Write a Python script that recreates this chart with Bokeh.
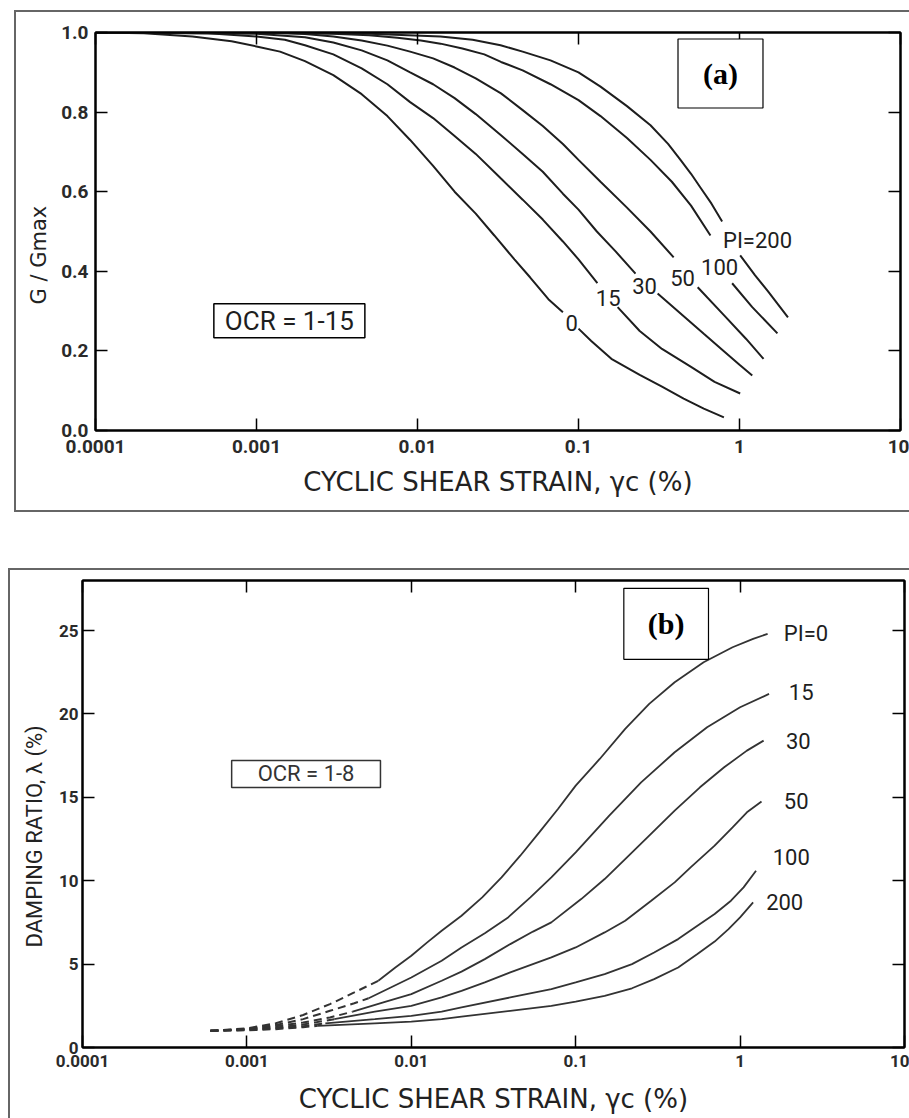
import numpy as np
from bokeh.plotting import figure
from bokeh.models import LogAxis, LinearAxis, FixedTicker, Label, Title
from bokeh.core.properties import value
from bokeh.embed import file_html
from bokeh.resources import INLINE

# ---------------- shared ticks ----------------
x_ticks = [0.0001, 0.001, 0.01, 0.1, 1.0, 10.0]
x_tick_labels = ["0.0001", "0.001", "0.01", "0.1", "1", "10"]

# ---------------- (a) G/Gmax vs cyclic shear strain ----------------
g_ticks = [0.0, 0.2, 0.4, 0.6, 0.8, 1.0]
g_tick_labels = ["0.0", "0.2", "0.4", "0.6", "0.8", "1.0"]

# None marks the gap where the PI label sits on the curve
gam_pi0 = [0.0001, 0.0002, 0.0004, 0.0007, 0.001, 0.0014, 0.002, 0.003, 0.0045, 0.0065, 0.009, 0.0125, 0.017, 0.023, 0.03, 0.04, 0.05, 0.065, 0.08,
           None, 0.1, 0.12, 0.16, 0.24, 0.33, 0.45, 0.6, 0.8]
G_pi0 = [1.0, 0.998, 0.99, 0.978, 0.965, 0.952, 0.928, 0.893, 0.845, 0.79, 0.73, 0.665, 0.60, 0.545, 0.49, 0.43, 0.385, 0.33, 0.297,
         None, 0.256, 0.225, 0.18, 0.14, 0.11, 0.08, 0.055, 0.033]

gam_pi15 = [0.0001, 0.0005, 0.001, 0.0015, 0.002, 0.003, 0.0045, 0.0065, 0.009, 0.0125, 0.017, 0.023, 0.033, 0.045, 0.06, 0.08, 0.1, 0.131,
            None, 0.175, 0.24, 0.33, 0.5, 0.7, 1.01]
G_pi15 = [1.0, 0.998, 0.99, 0.982, 0.968, 0.945, 0.91, 0.87, 0.825, 0.785, 0.74, 0.695, 0.633, 0.58, 0.53, 0.475, 0.43, 0.37,
          None, 0.31, 0.25, 0.205, 0.16, 0.122, 0.093]

gam_pi30 = [0.0001, 0.001, 0.002, 0.003, 0.0045, 0.0065, 0.009, 0.0125, 0.017, 0.023, 0.033, 0.045, 0.06, 0.08, 0.1, 0.13, 0.17, 0.226,
            None, 0.31, 0.42, 0.6, 0.8, 1.0, 1.2]
G_pi30 = [1.0, 0.997, 0.988, 0.975, 0.955, 0.93, 0.90, 0.87, 0.835, 0.795, 0.742, 0.695, 0.65, 0.595, 0.555, 0.50, 0.45, 0.394,
          None, 0.344, 0.298, 0.243, 0.199, 0.165, 0.138]

gam_pi50 = [0.0001, 0.001, 0.002, 0.003, 0.0045, 0.0065, 0.009, 0.0125, 0.017, 0.023, 0.033, 0.045, 0.06, 0.08, 0.1, 0.137, 0.2, 0.28, 0.39,
            None, 0.55, 0.8, 1.1, 1.41]
G_pi50 = [1.0, 1.0, 0.996, 0.99, 0.98, 0.967, 0.952, 0.935, 0.912, 0.885, 0.847, 0.805, 0.765, 0.72, 0.68, 0.625, 0.56, 0.50, 0.435,
          None, 0.36, 0.29, 0.23, 0.18]

gam_pi100 = [0.0001, 0.001, 0.003, 0.005, 0.0075, 0.0105, 0.0139, 0.019, 0.026, 0.033, 0.045, 0.067, 0.1, 0.137, 0.2, 0.28, 0.38, 0.5, 0.66,
             None, 0.9, 1.2, 1.72]
G_pi100 = [1.0, 1.0, 0.997, 0.993, 0.987, 0.98, 0.972, 0.96, 0.945, 0.926, 0.905, 0.87, 0.83, 0.79, 0.735, 0.68, 0.625, 0.565, 0.49,
           None, 0.37, 0.31, 0.244]

gam_pi200 = [0.0001, 0.001, 0.005, 0.0139, 0.022, 0.0328, 0.045, 0.067, 0.1, 0.137, 0.2, 0.28, 0.36, 0.43, 0.5, 0.573, 0.67, 0.78,
             None, 1.01, 1.25, 1.5, 2.0]
G_pi200 = [1.0, 1.0, 0.997, 0.99, 0.982, 0.968, 0.952, 0.93, 0.9, 0.864, 0.815, 0.767, 0.72, 0.68, 0.645, 0.61, 0.57, 0.525,
           None, 0.44, 0.39, 0.35, 0.284]

a_label_text = ["0", "15", "30", "50", "100", "PI=200"]
a_label_x = [0.0906, 0.153, 0.257, 0.443, 0.752, 1.294]
a_label_y = [0.269, 0.334, 0.362, 0.384, 0.41, 0.477]

# ---------------- (b) damping ratio vs cyclic shear strain ----------------
d_ticks = [0, 5, 10, 15, 20, 25]
d_tick_labels = ["0", "5", "10", "15", "20", "25"]

# dashed (extrapolated) low-strain parts
gdash_pi0 = [0.0006, 0.001, 0.0015, 0.0022, 0.0032, 0.0045, 0.0063]
ddash_pi0 = [1.0, 1.15, 1.45, 1.95, 2.6, 3.3, 4.0]
gdash_pi15 = [0.0006, 0.001, 0.0015, 0.0022, 0.0032, 0.0045, 0.0055]
ddash_pi15 = [1.0, 1.12, 1.35, 1.7, 2.2, 2.65, 2.95]
gdash_pi30 = [0.0006, 0.001, 0.0015, 0.0022, 0.0032, 0.0044]
ddash_pi30 = [1.0, 1.1, 1.28, 1.5, 1.8, 2.15]
gdash_pi50 = [0.0006, 0.001, 0.0015, 0.0022, 0.0034]
ddash_pi50 = [1.0, 1.08, 1.2, 1.38, 1.7]
gdash_pi100 = [0.0006, 0.001, 0.0015, 0.0022, 0.003]
ddash_pi100 = [1.0, 1.05, 1.15, 1.28, 1.45]
gdash_pi200 = [0.0006, 0.001, 0.0015, 0.0022, 0.0027]
ddash_pi200 = [1.0, 1.03, 1.1, 1.22, 1.3]

# solid parts
gsol_pi0 = [0.0063, 0.008, 0.01, 0.0125, 0.0153, 0.0202, 0.027, 0.0354, 0.046, 0.06, 0.078, 0.1, 0.14, 0.2, 0.28, 0.4, 0.6, 0.9, 1.2, 1.47]
dsol_pi0 = [4.0, 4.8, 5.5, 6.3, 7.0, 7.9, 9.0, 10.2, 11.5, 12.9, 14.3, 15.7, 17.3, 19.1, 20.6, 21.9, 23.1, 24.0, 24.5, 24.8]
gsol_pi15 = [0.0055, 0.0075, 0.01, 0.0153, 0.0202, 0.028, 0.0388, 0.053, 0.0711, 0.1, 0.16, 0.25, 0.4, 0.63, 1.0, 1.5]
dsol_pi15 = [2.95, 3.6, 4.2, 5.2, 6.0, 6.85, 7.8, 9.0, 10.2, 11.7, 13.9, 15.9, 17.7, 19.2, 20.4, 21.2]
gsol_pi30 = [0.0044, 0.007, 0.01, 0.0153, 0.0202, 0.028, 0.04, 0.055, 0.0711, 0.108, 0.15, 0.2, 0.28, 0.4, 0.57, 0.8, 1.1, 1.39]
dsol_pi30 = [2.15, 2.75, 3.2, 4.0, 4.55, 5.3, 6.2, 6.95, 7.5, 8.9, 10.1, 11.3, 12.7, 14.2, 15.6, 16.8, 17.8, 18.4]
gsol_pi50 = [0.0034, 0.006, 0.01, 0.0153, 0.0202, 0.028, 0.04, 0.0711, 0.1, 0.15, 0.2, 0.288, 0.4, 0.5, 0.7, 0.9, 1.1, 1.35]
dsol_pi50 = [1.7, 2.15, 2.5, 3.0, 3.4, 3.9, 4.5, 5.4, 6.0, 6.9, 7.6, 8.8, 9.9, 10.8, 12.1, 13.2, 14.1, 14.75]
gsol_pi100 = [0.003, 0.006, 0.01, 0.0153, 0.0202, 0.04, 0.0711, 0.1, 0.15, 0.22, 0.3, 0.42, 0.55, 0.7, 0.88, 1.05, 1.25]
dsol_pi100 = [1.45, 1.7, 1.9, 2.15, 2.4, 3.0, 3.5, 3.9, 4.4, 5.0, 5.7, 6.5, 7.3, 8.0, 8.8, 9.6, 10.6]
gsol_pi200 = [0.0027, 0.006, 0.01, 0.0153, 0.0202, 0.04, 0.0711, 0.1, 0.15, 0.22, 0.3, 0.42, 0.55, 0.7, 0.85, 1.0, 1.2]
dsol_pi200 = [1.3, 1.45, 1.55, 1.7, 1.85, 2.2, 2.5, 2.75, 3.1, 3.55, 4.1, 4.8, 5.6, 6.35, 7.1, 7.8, 8.7]

b_label_text = ["PI=0", "15", "30", "50", "100", "200"]
b_label_x = [1.845, 1.98, 1.90, 1.845, 1.58, 1.44]
b_label_y = [24.8, 21.3, 18.4, 14.8, 11.4, 8.7]

INK = "#1e1e1e"


def nan_gap(values):
    return [np.nan if v is None else v for v in values]


def style_axis(ax, ticks, labels, size, show_labels=True):
    ax.ticker = FixedTicker(ticks=ticks)
    ax.major_label_overrides = dict(zip(ticks, labels))
    ax.major_tick_in = 12
    ax.major_tick_out = 0
    ax.minor_tick_in = 0
    ax.minor_tick_out = 0
    ax.axis_line_color = "black"
    ax.axis_line_width = 2
    ax.major_tick_line_color = "black"
    ax.major_tick_line_width = 1.5
    if show_labels:
        ax.major_label_text_font = "Roboto"
        ax.major_label_text_font_size = size
        ax.major_label_text_font_style = "bold"
        ax.major_label_text_color = "#2a2a2a"
    else:
        ax.major_label_text_color = None
        ax.major_label_text_font_size = "1px"
        ax.major_label_standoff = 0


def make_fig(width, height, y_end, left, right, top, bottom):
    p = figure(width=width, height=height, x_axis_type="log", x_range=(1e-4, 10),
               y_range=(0, y_end), output_backend="svg", toolbar_location=None,
               min_border_left=left, min_border_right=right,
               min_border_top=top, min_border_bottom=bottom)
    p.grid.visible = False
    p.outline_line_color = "black"
    p.outline_line_width = 2
    p.background_fill_color = "white"
    p.border_fill_color = "white"
    return p


def x_title(ax, text, standoff):
    ax.axis_label = text
    ax.axis_label_text_font = "DejaVu Sans"
    ax.axis_label_text_font_size = "26px"
    ax.axis_label_text_font_style = "normal"
    ax.axis_label_text_color = "#222"
    ax.axis_label_standoff = standoff


# ================= figure (a) =================
pa = make_fig(895, 502, 1.0, 79, 11, 20, 84)
style_axis(pa.xaxis[0], x_ticks, x_tick_labels, "19px")
pa.xaxis[0].major_label_standoff = 9
x_title(pa.xaxis[0], "CYCLIC SHEAR STRAIN, \u03b3c (%)", 11)
style_axis(pa.yaxis[0], g_ticks, g_tick_labels, "19px")
pa.yaxis[0].major_label_standoff = 7
ax_top = LogAxis()
style_axis(ax_top, x_ticks, x_tick_labels, "0px", show_labels=False)
pa.add_layout(ax_top, "above")
ax_right = LinearAxis()
style_axis(ax_right, g_ticks, g_tick_labels, "0px", show_labels=False)
pa.add_layout(ax_right, "right")
pa.add_layout(Title(text="G / Gmax", text_font="DejaVu Sans", text_font_size="21px",
                    text_font_style="normal", text_color="#222", align="left",
                    offset=126, standoff=16), "left")

for gx, gy in [(gam_pi0, G_pi0), (gam_pi15, G_pi15), (gam_pi30, G_pi30),
               (gam_pi50, G_pi50), (gam_pi100, G_pi100), (gam_pi200, G_pi200)]:
    pa.line(nan_gap(gx), nan_gap(gy), line_color=INK, line_width=2)

pa.text(x=a_label_x, y=a_label_y, text=a_label_text, text_font=value("Roboto"),
        text_font_size=value("22px"), text_align="center", text_baseline="middle",
        text_color=INK)

pa.add_layout(Label(x=0.0016, y=0.276, text="OCR = 1-15", text_font="Roboto",
                    text_font_size="26px", text_color=INK, text_align="center",
                    text_baseline="middle", background_fill_color="white",
                    border_line_color="black", border_line_width=1.5, padding=(11, 2)))
pa.add_layout(Label(x=0.762, y=0.897, text="(a)", text_font="Liberation Serif",
                    text_font_style="bold", text_font_size="30px", text_color="black",
                    text_align="center", text_baseline="middle",
                    background_fill_color="white", border_line_color="black",
                    border_line_width=1.2, padding=(25, 18)))

pa.margin = (10, 0, 0, 14)
pa.styles = {"border-left": "2px solid #666", "border-top": "2px solid #666",
             "border-bottom": "2px solid #666", "box-sizing": "border-box"}

# ================= figure (b) =================
pb = make_fig(901, 550, 28.0, 70, 7, 10, 73)
style_axis(pb.xaxis[0], x_ticks, x_tick_labels, "17px")
pb.xaxis[0].major_label_standoff = 7
x_title(pb.xaxis[0], "CYCLIC SHEAR STRAIN, \u03b3c (%)", 14)
style_axis(pb.yaxis[0], d_ticks, d_tick_labels, "17px")
pb.yaxis[0].major_label_standoff = 4
bx_top = LogAxis()
style_axis(bx_top, x_ticks, x_tick_labels, "0px", show_labels=False)
pb.add_layout(bx_top, "above")
bx_right = LinearAxis()
style_axis(bx_right, d_ticks, d_tick_labels, "0px", show_labels=False)
pb.add_layout(bx_right, "right")
pb.add_layout(Title(text="DAMPING RATIO, \u03bb (%)", text_font="Roboto",
                    text_font_size="22px", text_font_style="normal", text_color="#222",
                    align="left", offset=100, standoff=18), "left")

for gx, dy in [(gdash_pi0, ddash_pi0), (gdash_pi15, ddash_pi15), (gdash_pi30, ddash_pi30),
               (gdash_pi50, ddash_pi50), (gdash_pi100, ddash_pi100), (gdash_pi200, ddash_pi200)]:
    pb.line(gx, dy, line_color="#333", line_width=2, line_dash="8 5")
for gx, dy in [(gsol_pi0, dsol_pi0), (gsol_pi15, dsol_pi15), (gsol_pi30, dsol_pi30),
               (gsol_pi50, dsol_pi50), (gsol_pi100, dsol_pi100), (gsol_pi200, dsol_pi200)]:
    pb.line(gx, dy, line_color="#333", line_width=1.8)

pb.text(x=b_label_x, y=b_label_y, text=b_label_text, text_font=value("Roboto"),
        text_font_size=value("22px"), text_align="left", text_baseline="middle",
        text_color=INK)

pb.add_layout(Label(x=0.00229, y=16.4, text="OCR = 1-8", text_font="Roboto",
                    text_font_size="22px", text_color="#333", text_align="center",
                    text_baseline="middle", background_fill_color="white",
                    border_line_color="#333", border_line_width=1.5, padding=(26, 1)))
pb.add_layout(Label(x=0.355, y=25.4, text="(b)", text_font="Liberation Serif",
                    text_font_style="bold", text_font_size="30px", text_color="black",
                    text_align="center", text_baseline="middle",
                    background_fill_color="white", border_line_color="black",
                    border_line_width=1.2, padding=(24, 19)))

pb.margin = (56, 0, 0, 8)
pb.styles = {"border-left": "2px solid #666", "border-top": "2px solid #666",
             "box-sizing": "border-box"}

open("out.html", "w").write(file_html([pa, pb], INLINE))
